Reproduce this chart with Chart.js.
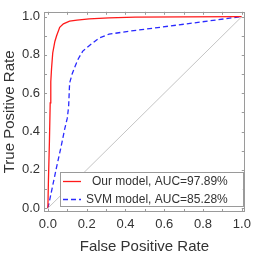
<!DOCTYPE html>
<html>
<head>
<meta charset="utf-8">
<script src="https://cdn.jsdelivr.net/npm/chart.js@4/dist/chart.umd.min.js"></script>
<style>
	html, body { margin: 0; padding: 0; background: #fff; }
	#wrap { width: 256px; height: 254px; }
</style>
</head>
<body>
<div id="wrap"><canvas id="roc"></canvas></div>
<script>
// ROC curves
let ourFpr = [0, 0.003, 0.008, 0.012, 0.015, 0.019, 0.025, 0.036, 0.045, 0.061, 0.08, 0.112, 0.15, 0.213, 0.315, 0.45, 0.7, 1.0]
let ourTpr = [0, 0.15, 0.35, 0.55, 0.66, 0.73, 0.81, 0.87, 0.9, 0.944, 0.962, 0.976, 0.982, 0.988, 0.993, 0.997, 0.999, 1.0]
let svmFpr = [0, 0.01, 0.044, 0.07, 0.086, 0.1, 0.107, 0.112, 0.125, 0.14, 0.157, 0.18, 0.213, 0.264, 0.315, 0.406, 0.7, 1.0]
let svmTpr = [0, 0.046, 0.21, 0.33, 0.41, 0.47, 0.53, 0.653, 0.7, 0.74, 0.78, 0.82, 0.848, 0.888, 0.908, 0.922, 0.96, 1.0]
let chanceX = [0, 1]
let chanceY = [0, 1]
let seriesLabels = ['Our model, AUC=97.89%', 'SVM model, AUC=85.28%']
let tickValues = [0, 0.1, 0.2, 0.3, 0.4, 0.5, 0.6, 0.7, 0.8, 0.9, 1.0]
let xTitle = 'False Positive Rate'
let yTitle = 'True Positive Rate'

let pts = (xs, ys) => xs.map((x, i) => ({ x: x, y: ys[i] }))
let frameColor = '#9a9a9a'
let textColor = '#333'
let fontFamily = '"Liberation Sans", Arial, sans-serif'

// frame with inward ticks on all four sides
let framePlugin = {
	id: 'frame',
	afterDatasetsDraw: chart => {
		let ctx = chart.ctx
		let a = chart.chartArea
		let xs = chart.scales.x, ys = chart.scales.y
		ctx.save()
		ctx.strokeStyle = frameColor
		ctx.lineWidth = 1
		ctx.strokeRect(Math.round(a.left) + 0.5, Math.round(a.top) + 0.5, Math.round(a.right - a.left) - 1, Math.round(a.bottom - a.top) - 1)
		ctx.beginPath()
		tickValues.forEach(v => {
			let px = Math.round(xs.getPixelForValue(v)) + 0.5
			ctx.moveTo(px, a.bottom); ctx.lineTo(px, a.bottom - 3)
			ctx.moveTo(px, a.top); ctx.lineTo(px, a.top + 3)
			let py = Math.round(ys.getPixelForValue(v)) + 0.5
			ctx.moveTo(a.left, py); ctx.lineTo(a.left + 3, py)
			ctx.moveTo(a.right, py); ctx.lineTo(a.right - 3, py)
		})
		ctx.stroke()
		ctx.restore()
	}
}

// legend box in the lower right of the plot
let legendPlugin = {
	id: 'boxLegend',
	afterDraw: chart => {
		let ctx = chart.ctx
		let a = chart.chartArea
		let sets = chart.data.datasets.filter(d => d.label)
		let right = a.right - 2, bottom = a.bottom - 6
		let left = a.left + 16, top = bottom - 34
		ctx.save()
		ctx.fillStyle = '#fff'
		ctx.fillRect(left, top, right - left, bottom - top)
		ctx.strokeStyle = frameColor
		ctx.lineWidth = 1
		ctx.strokeRect(Math.round(left) + 0.5, Math.round(top) + 0.5, Math.round(right - left), Math.round(bottom - top))
		ctx.font = '12px ' + fontFamily
		ctx.textAlign = 'right'
		ctx.textBaseline = 'middle'
		sets.forEach((d, i) => {
			let y = top + 9.5 + i * 18
			ctx.strokeStyle = d.borderColor
			ctx.lineWidth = d.borderWidth
			ctx.setLineDash(d.borderDash || [])
			ctx.beginPath()
			ctx.moveTo(left + 3, y); ctx.lineTo(left + 21, y)
			ctx.stroke()
			ctx.setLineDash([])
			ctx.fillStyle = textColor
			ctx.fillText(d.label, right - 15, y + 0.5)
		})
		ctx.restore()
	}
}

let tickFmt = v => (Math.round(v * 10) % 2 === 0 ? v.toFixed(1) : '')

new Chart(document.getElementById('roc'), {
	type: 'line',
	data: {
		datasets: [
			{ label: '', data: pts(chanceX, chanceY), borderColor: '#bdbdbd', borderWidth: 0.9, pointRadius: 0 },
			{ label: seriesLabels[0], data: pts(ourFpr, ourTpr), borderColor: '#ff1a1a', borderWidth: 1.3, pointRadius: 0, tension: 0 },
			{ label: seriesLabels[1], data: pts(svmFpr, svmTpr), borderColor: '#2a2aff', borderWidth: 1.3, borderDash: [5, 3], pointRadius: 0, tension: 0 }
		]
	},
	options: {
		responsive: true,
		maintainAspectRatio: false,
		animation: false,
		events: [],
		layout: { padding: { top: 7, right: 8, left: 0, bottom: 0 } },
		plugins: { legend: { display: false }, tooltip: { enabled: false } },
		scales: {
			x: {
				type: 'linear', min: -0.02, max: 1.015,
				afterBuildTicks: s => { s.ticks = tickValues.map(v => ({ value: v })) },
				afterFit: s => { s.height = 42 },
				grid: { display: false, drawTicks: false },
				border: { display: false },
				ticks: { callback: tickFmt, color: textColor, padding: 5, maxRotation: 0, autoSkip: false, font: { size: 13, family: fontFamily } },
				title: { display: true, text: xTitle, color: textColor, padding: { top: 0, bottom: 0 }, font: { size: 15, lineHeight: 1, family: fontFamily } }
			},
			y: {
				type: 'linear', min: -0.02, max: 1.025,
				afterBuildTicks: s => { s.ticks = tickValues.map(v => ({ value: v })) },
				afterFit: s => { s.width = 44 },
				grid: { display: false, drawTicks: false },
				border: { display: false },
				ticks: { callback: tickFmt, color: textColor, padding: 4, autoSkip: false, font: { size: 13, family: fontFamily } },
				title: { display: true, text: yTitle, color: textColor, padding: { top: 2, bottom: 0 }, font: { size: 15, lineHeight: 1, family: fontFamily } }
			}
		}
	},
	plugins: [framePlugin, legendPlugin]
})
</script>
</body>
</html>
